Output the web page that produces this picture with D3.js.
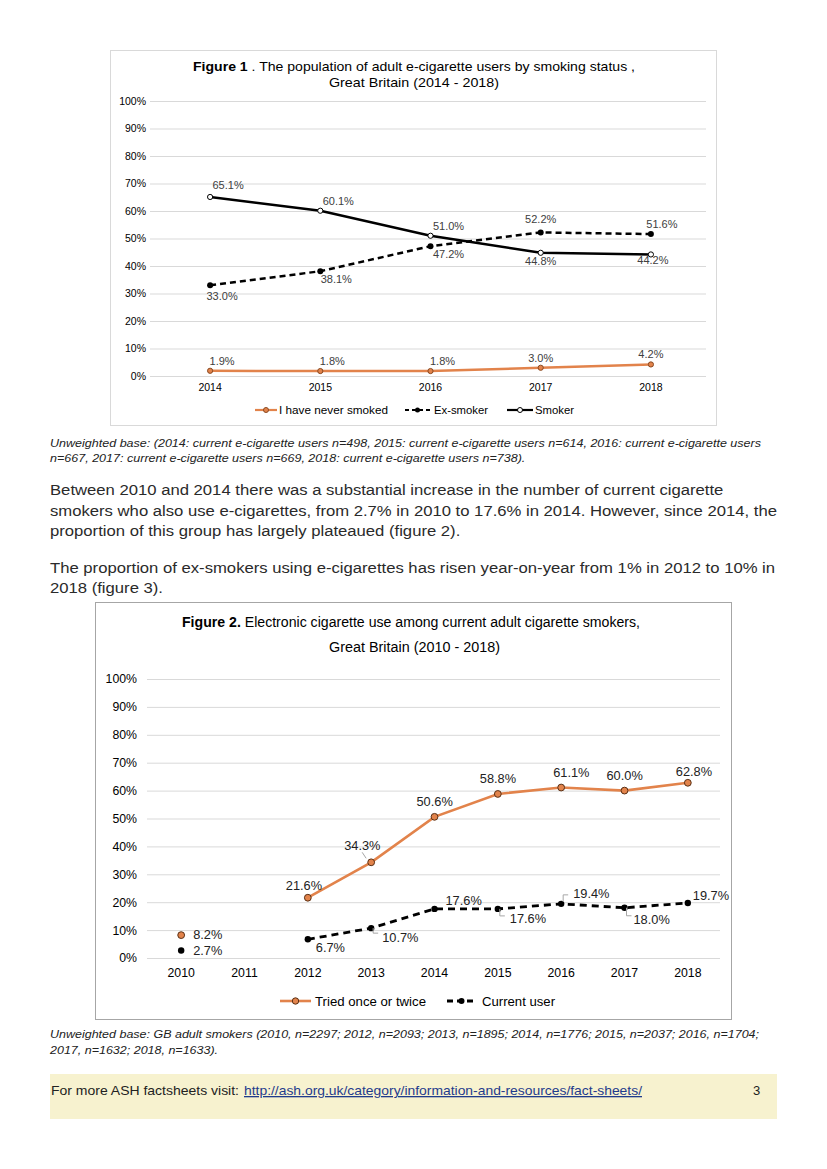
<!DOCTYPE html>
<html><head><meta charset="utf-8">
<script src="https://cdn.jsdelivr.net/npm/d3@7"></script>
<style>body{margin:0;background:#fff}svg{display:block}text{font-family:"Liberation Sans",Arial,sans-serif}</style>
</head><body>
<svg id="page" width="827" height="1169"></svg>
<script>
// ---- Figure 1 data ----
const years1 = ["2014","2015","2016","2017","2018"];
const neverSmoked = [1.9, 1.8, 1.8, 3.0, 4.2];
const exSmoker = [33.0, 38.1, 47.2, 52.2, 51.6];
const smoker = [65.1, 60.1, 51.0, 44.8, 44.2];
const yTicks = [0,10,20,30,40,50,60,70,80,90,100];
// ---- Figure 2 data ----
const years2 = ["2010","2011","2012","2013","2014","2015","2016","2017","2018"];
const triedOnce = [8.2, null, 21.6, 34.3, 50.6, 58.8, 61.1, 60.0, 62.8];
const currentUser = [2.7, null, 6.7, 10.7, 17.6, 17.6, 19.4, 18.0, 19.7];

const ORANGE = "#E2834B", ODARK = "#8A4A22", GRID = "#d9d9d9", LAB = "#404040";
const svg = d3.select("#page");
svg.append("rect").attr("width",827).attr("height",1169).attr("fill","#fff");

function fitText(sel, w){ return sel.attr("textLength",w).attr("lengthAdjust","spacingAndGlyphs"); }
// uniformly compress a block of lines so that reference line refIdx gets width refW
function fitBlock(g, lines, refIdx, refW){
  const nodes = lines.map(([yy,t])=>g.append("text").attr("x",50).attr("y",yy).text(t));
  const nat = nodes.map(n=>n.node().getComputedTextLength());
  const k = refW / nat[refIdx];
  nodes.forEach((n,i)=>fitText(n, nat[i]*k));
}

// ================= FIGURE 1 =================
const f1 = svg.append("g");
f1.append("rect").attr("x",110.5).attr("y",50.5).attr("width",606).attr("height",375)
  .attr("fill","#fff").attr("stroke","#d9d9d9");
const t1 = f1.append("text").attr("x",193).attr("y",71).attr("font-size",13.5).attr("fill","#000");
t1.append("tspan").attr("font-weight","bold").text("Figure 1");
t1.append("tspan").text(" . The population of adult e-cigarette users by smoking status ,");
fitText(t1, 442);
fitText(f1.append("text").attr("x",329).attr("y",86.5).attr("font-size",13.5)
  .text("Great Britain (2014 - 2018)"), 170);

const x1 = d3.scaleBand().domain(years1).range([155,706]);
const y1 = d3.scaleLinear().domain([0,100]).range([376,101]);
const cx1 = d => x1(d) + x1.bandwidth()/2;

f1.append("g").selectAll("line").data(yTicks).join("line")
  .attr("x1",150).attr("x2",706).attr("y1",d=>y1(d)+0.5).attr("y2",d=>y1(d)+0.5)
  .attr("stroke",GRID).attr("stroke-width",1);
f1.append("g").attr("transform","translate(149,0)")
  .call(d3.axisLeft(y1).tickValues(yTicks).tickFormat(d=>d+"%").tickSize(0).tickPadding(3))
  .call(g=>g.select(".domain").remove())
  .call(g=>g.selectAll("text").attr("font-size",10.5).attr("fill","#000").attr("font-family","Liberation Sans, Arial, sans-serif"));
f1.append("g").attr("transform","translate(0,376)")
  .call(d3.axisBottom(x1).tickSize(0).tickPadding(8))
  .call(g=>g.select(".domain").remove())
  .call(g=>g.selectAll("text").attr("font-size",10.5).attr("fill","#000").attr("font-family","Liberation Sans, Arial, sans-serif"));

const line1 = vals => d3.line().x((d,i)=>cx1(years1[i])).y(d=>y1(d))(vals);
f1.append("path").attr("d",line1(smoker)).attr("fill","none").attr("stroke","#000").attr("stroke-width",2.5);
f1.append("path").attr("d",line1(exSmoker)).attr("fill","none").attr("stroke","#000").attr("stroke-width",2.5).attr("stroke-dasharray","6,4");
f1.append("path").attr("d",line1(neverSmoked)).attr("fill","none").attr("stroke",ORANGE).attr("stroke-width",2.5);

f1.selectAll(".ms").data(smoker).join("circle").attr("cx",(d,i)=>cx1(years1[i])).attr("cy",d=>y1(d))
  .attr("r",2.6).attr("fill","#fff").attr("stroke","#000").attr("stroke-width",1);
f1.selectAll(".me").data(exSmoker).join("circle").attr("cx",(d,i)=>cx1(years1[i])).attr("cy",d=>y1(d))
  .attr("r",3).attr("fill","#000");
f1.selectAll(".mn").data(neverSmoked).join("circle").attr("cx",(d,i)=>cx1(years1[i])).attr("cy",d=>y1(d))
  .attr("r",2.6).attr("fill",ORANGE).attr("stroke",ODARK).attr("stroke-width",1);

const smOff = [[18,-8],[18,-6],[18,-6],[0,12],[2,10]];
const exOff = [[12,15],[16,12],[18,12],[0,-9],[11,-6]];
const nvOff = [[12,-6],[12,-6],[12,-6],[0,-6],[0,-6]];
function labels1(vals, off){
  f1.append("g").selectAll("text").data(vals).join("text")
    .attr("x",(d,i)=>cx1(years1[i])+off[i][0]).attr("y",(d,i)=>y1(d)+off[i][1])
    .attr("text-anchor","middle").attr("font-size",11).attr("fill",LAB)
    .text(d=>d.toFixed(1)+"%");
}
labels1(smoker, smOff); labels1(exSmoker, exOff); labels1(neverSmoked, nvOff);

// legend fig1: [lineStart, lineEnd, textStart, textWidth]
const lg1 = f1.append("g").attr("font-size",10.5);
[[255,277,279,109,"I have never smoked",ORANGE,null,"never"],
 [405,430,434,54,"Ex-smoker","#000","4,3","ex"],
 [507,533,535,39,"Smoker","#000",null,"sm"]].forEach(([a,b,tx,w,txt,col,dash,k])=>{
  lg1.append("line").attr("x1",a).attr("x2",b).attr("y1",410).attr("y2",410).attr("stroke",col).attr("stroke-width",2.2).attr("stroke-dasharray",dash);
  const c = lg1.append("circle").attr("cx",(a+b)/2).attr("cy",410).attr("r",2.5);
  if(k==="never") c.attr("fill",ORANGE).attr("stroke",ODARK);
  else if(k==="ex") c.attr("fill","#000");
  else c.attr("fill","#fff").attr("stroke","#000");
  fitText(lg1.append("text").attr("x",tx).attr("y",413.5).attr("fill","#000").text(txt), w);
});

// ================= TEXT BLOCK =================
const it1 = svg.append("g").attr("font-size",11.5).attr("font-style","italic").attr("fill","#222");
fitBlock(it1, [
  [447,"Unweighted base: (2014: current e-cigarette users n=498, 2015: current e-cigarette users n=614, 2016: current e-cigarette users"],
  [462,"n=667, 2017: current e-cigarette users n=669, 2018: current e-cigarette users n=738)."]], 0, 711);

const para = svg.append("g").attr("font-size",15.5).attr("fill","#2a2a2a");
fitBlock(para, [
  [495,"Between 2010 and 2014 there was a substantial increase in the number of current cigarette"],
  [516,"smokers who also use e-cigarettes, from 2.7% in 2010 to 17.6% in 2014. However, since 2014, the"],
  [536,"proportion of this group has largely plateaued (figure 2)."],
  [573,"The proportion of ex-smokers using e-cigarettes has risen year-on-year from 1% in 2012 to 10% in"],
  [593,"2018 (figure 3)."]], 1, 727);

// ================= FIGURE 2 =================
const f2 = svg.append("g");
f2.append("rect").attr("x",95.5).attr("y",602.5).attr("width",636).attr("height",417)
  .attr("fill","#fff").attr("stroke","#a6a6a6");
const t2 = f2.append("text").attr("x",182).attr("y",627).attr("font-size",14);
t2.append("tspan").attr("font-weight","bold").text("Figure 2.");
t2.append("tspan").text(" Electronic cigarette use among current adult cigarette smokers,");
fitText(t2, 458);
fitText(f2.append("text").attr("x",329).attr("y",652).attr("font-size",14)
  .text("Great Britain (2010 - 2018)"), 171);

const x2 = d3.scaleBand().domain(years2).range([149.5,719.5]);
const y2 = d3.scaleLinear().domain([0,100]).range([958,679]);
const cx2 = d => x2(d) + x2.bandwidth()/2;

f2.append("g").selectAll("line").data(yTicks).join("line")
  .attr("x1",147).attr("x2",720).attr("y1",d=>y2(d)+0.5).attr("y2",d=>y2(d)+0.5)
  .attr("stroke",GRID).attr("stroke-width",1);
f2.append("g").attr("transform","translate(141,0)")
  .call(d3.axisLeft(y2).tickValues(yTicks).tickFormat(d=>d+"%").tickSize(0).tickPadding(4))
  .call(g=>g.select(".domain").remove())
  .call(g=>g.selectAll("text").attr("font-size",12.3).attr("fill","#000").attr("font-family","Liberation Sans, Arial, sans-serif"));
f2.append("g").attr("transform","translate(0,958)")
  .call(d3.axisBottom(x2).tickSize(0).tickPadding(10))
  .call(g=>g.select(".domain").remove())
  .call(g=>g.selectAll("text").attr("font-size",12.3).attr("fill","#000").attr("font-family","Liberation Sans, Arial, sans-serif"));

const line2 = d3.line().defined(d=>d.v!=null).x(d=>cx2(d.k)).y(d=>y2(d.v));
const tr = triedOnce.map((v,i)=>({k:years2[i],v}));
const cu = currentUser.map((v,i)=>({k:years2[i],v}));
f2.append("path").attr("d",line2(tr)).attr("fill","none").attr("stroke",ORANGE).attr("stroke-width",2.6);
f2.append("path").attr("d",line2(cu)).attr("fill","none").attr("stroke","#000").attr("stroke-width",2.8).attr("stroke-dasharray","7,5");
f2.selectAll(".mt").data(tr.filter(d=>d.v!=null)).join("circle").attr("cx",d=>cx2(d.k)).attr("cy",d=>y2(d.v))
  .attr("r",3.4).attr("fill",ORANGE).attr("stroke","#5a3015").attr("stroke-width",1);
f2.selectAll(".mc").data(cu.filter(d=>d.v!=null)).join("circle").attr("cx",d=>cx2(d.k)).attr("cy",d=>y2(d.v))
  .attr("r",3.2).attr("fill","#000");

const trOff = [[12,4],null,[-22,-8],[-27,-12],[-18,-11],[-18,-11],[-8,-11],[-18,-11],[-12,-7]];
const cuOff = [[12,5],null,[8,13],[11,14],[11,-4],[12,14],[12,-6],[9,16],[5,-3]];
function labels2(data, off){
  f2.append("g").selectAll("text").data(data.map((d,i)=>({...d,o:off[i]})).filter(d=>d.v!=null)).join("text")
    .attr("x",d=>cx2(d.k)+d.o[0]).attr("y",d=>y2(d.v)+d.o[1])
    .attr("font-size",12.8).attr("fill","#222").text(d=>d.v.toFixed(1)+"%");
}
labels2(tr, trOff); labels2(cu, cuOff);
const leaders = [
  [tr[3], [[-5,-4],[-9,-10]]],
  [cu[3], [[2,0],[2,5],[7,5]]],
  [cu[5], [[2,0],[2,7],[7,7]]],
  [cu[6], [[2,-2],[2,-9],[7,-9]]],
  [cu[7], [[2,0],[2,8],[7,8]]]
];
leaders.forEach(([d,pts])=>{
  f2.append("path").attr("d",d3.line()(pts.map(p=>[cx2(d.k)+p[0], y2(d.v)+p[1]])))
    .attr("fill","none").attr("stroke","#a6a6a6").attr("stroke-width",1);
});

// legend fig2
const lg2 = f2.append("g").attr("font-size",13);
lg2.append("line").attr("x1",280).attr("x2",311).attr("y1",1001).attr("y2",1001).attr("stroke",ORANGE).attr("stroke-width",2.6);
lg2.append("circle").attr("cx",295.5).attr("cy",1001).attr("r",3.2).attr("fill",ORANGE).attr("stroke","#5a3015");
fitText(lg2.append("text").attr("x",315).attr("y",1005.5).text("Tried once or twice"), 111);
lg2.append("line").attr("x1",447).attr("x2",476).attr("y1",1001).attr("y2",1001).attr("stroke","#000").attr("stroke-width",2.8).attr("stroke-dasharray","6,4");
lg2.append("circle").attr("cx",461.5).attr("cy",1001).attr("r",3).attr("fill","#000");
fitText(lg2.append("text").attr("x",482).attr("y",1005.5).text("Current user"), 73);

// ================= FOOTNOTE & FOOTER =================
const it2 = svg.append("g").attr("font-size",11.5).attr("font-style","italic").attr("fill","#222");
fitBlock(it2, [
  [1038,"Unweighted base: GB adult smokers (2010, n=2297; 2012, n=2093; 2013, n=1895; 2014, n=1776; 2015, n=2037; 2016, n=1704;"],
  [1054,"2017, n=1632; 2018, n=1633)."]], 0, 709);

svg.append("rect").attr("x",50).attr("y",1074).attr("width",727).attr("height",45).attr("fill","#F7F2CF");
fitText(svg.append("text").attr("x",51).attr("y",1095).attr("font-size",13).attr("fill","#222")
  .text("For more ASH factsheets visit:"), 188);
fitText(svg.append("text").attr("x",244).attr("y",1095).attr("font-size",13).attr("fill","#1F3B8C")
  .attr("text-decoration","underline").text("http://ash.org.uk/category/information-and-resources/fact-sheets/"), 398);
svg.append("text").attr("x",753).attr("y",1095).attr("font-size",13).attr("fill","#222").text("3");
</script>
</body></html>
